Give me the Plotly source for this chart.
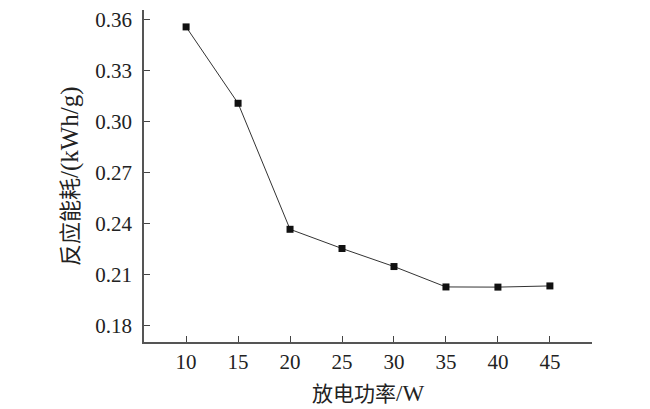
import plotly.graph_objects as go

# discharge power (W) vs reaction energy consumption (kWh/g)
power = [10, 15, 20, 25, 30, 35, 40, 45]
energy = [0.3555, 0.3106, 0.2365, 0.2252, 0.2146, 0.2026, 0.2025, 0.2032]
y_ticks = [0.18, 0.21, 0.24, 0.27, 0.30, 0.33, 0.36]
y_tick_text = ["0.18", "0.21", "0.24", "0.27", "0.30", "0.33", "0.36"]

font_fam = '"Liberation Serif", "Times New Roman", "Noto Sans CJK SC", serif'

fig = go.Figure()
fig.add_trace(
    go.Scatter(
        x=power,
        y=energy,
        mode="lines+markers",
        line=dict(color="#333333", width=1),
        marker=dict(symbol="square", size=7, color="#111111"),
        showlegend=False,
    )
)

# page body adds an 8px offset, so the figure is a bit smaller than the window
fig.update_layout(
    width=642,
    height=401,
    margin=dict(l=136, r=58, t=0, b=67),
    paper_bgcolor="white",
    plot_bgcolor="white",
    font=dict(family=font_fam, size=21, color="#222222"),
    xaxis=dict(
        range=[5.95, 49.05],
        tickvals=power,
        ticks="inside",
        ticklen=6,
        tickcolor="#444444",
        showline=True,
        linecolor="#555555",
        linewidth=1.5,
        showgrid=False,
        zeroline=False,
        ticklabelstandoff=0,
    ),
    yaxis=dict(
        range=[0.17023, 0.36544],
        tickvals=y_ticks,
        ticktext=y_tick_text,
        ticks="inside",
        ticklen=6,
        tickcolor="#444444",
        showline=True,
        linecolor="#555555",
        linewidth=1.5,
        showgrid=False,
        zeroline=False,
        ticklabelstandoff=6,
        ticklabeloverflow="allow",
    ),
    annotations=[
        dict(
            text='放电功率<span style="font-size:23px">/W</span>',
            xref="paper", yref="paper",
            x=0.5, y=-0.156,
            xanchor="center", yanchor="middle",
            showarrow=False,
            font=dict(family=font_fam, size=21, color="#222222"),
        ),
        dict(
            text='反应能耗<span style="font-size:25px">/(kWh/g)</span>',
            xref="paper", yref="paper",
            x=-0.165, y=0.50,
            xanchor="center", yanchor="middle",
            textangle=-90,
            showarrow=False,
            font=dict(family=font_fam, size=22, color="#222222"),
        ),
    ],
)

fig.write_html("out.html")
